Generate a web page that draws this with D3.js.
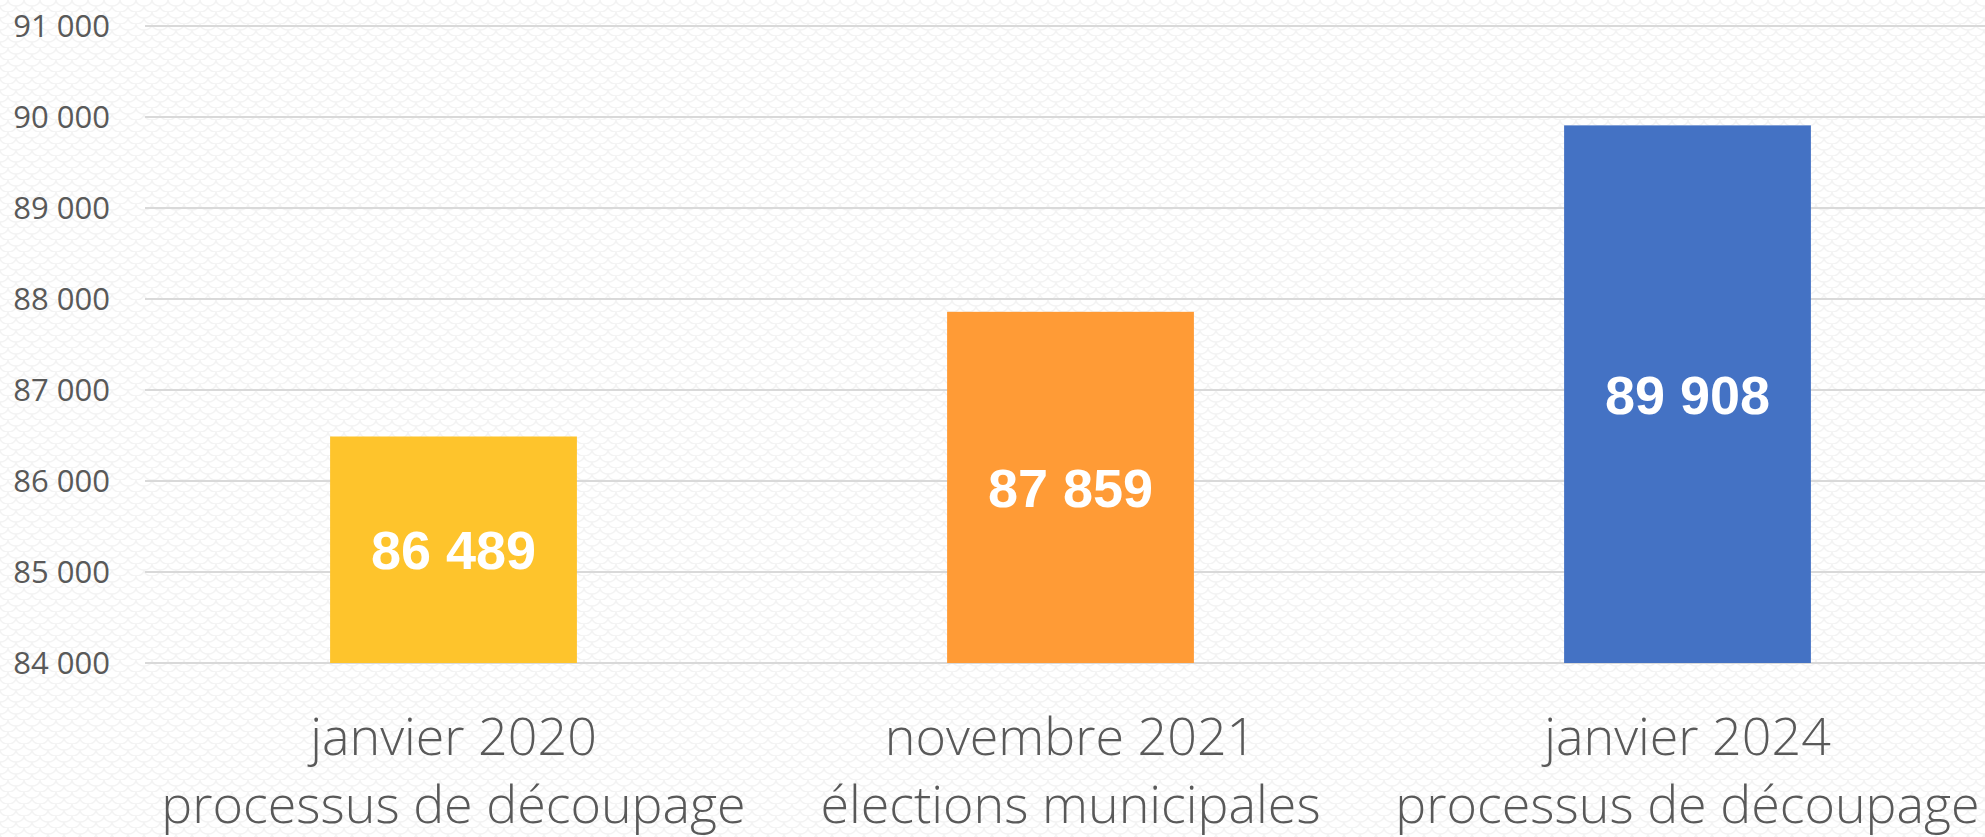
<!DOCTYPE html>
<html lang="fr">
<head>
    <meta charset="UTF-8">
    <title>Population</title>
    <script src="https://d3js.org/d3.v7.min.js"></script>
    <style>
        body { margin: 0; background: #fff; overflow: hidden; }
        .tick-label { font-family: "Open Sans", sans-serif; font-size: 31px; fill: #595959; }
        .cat-label { font-family: "Open Sans", sans-serif; font-weight: 300; font-size: 52px; fill: #595959; }
        .value-label { font-family: "Liberation Sans", Arial, sans-serif; font-weight: bold; font-size: 54px; fill: #fff; }
    </style>
</head>
<body>
<svg id="chart"></svg>
<script>
    // data
    const categories = [
        ["janvier 2020", "processus de découpage"],
        ["novembre 2021", "élections municipales"],
        ["janvier 2024", "processus de découpage"]
    ];
    const values = [86489, 87859, 89908];
    const barColors = ["#fec42c", "#ff9b36", "#4472c4"];
    const yTicks = [84000, 85000, 86000, 87000, 88000, 89000, 90000, 91000];

    const width = 1985, height = 837;
    const margin = {left: 145, right: -11, top: 26, bottom: 174};

    const svg = d3.select("#chart").attr("width", width).attr("height", height);

    // faint scale pattern in background
    const defs = svg.append("defs");
    const pat = defs.append("pattern")
        .attr("id", "bg")
        .attr("patternUnits", "userSpaceOnUse")
        .attr("width", 16).attr("height", 12);
    pat.append("rect").attr("width", 16).attr("height", 12).attr("fill", "#fff");
    pat.append("path")
        .attr("d", "M0,6 A8,6 0 0,0 16,6 M-8,12 A8,6 0 0,0 8,12 M8,12 A8,6 0 0,0 24,12 M-8,0 A8,6 0 0,0 8,0 M8,0 A8,6 0 0,0 24,0")
        .attr("fill", "none")
        .attr("stroke", "#f3f3f3")
        .attr("stroke-width", 1.5);
    svg.append("rect").attr("width", width).attr("height", height).attr("fill", "url(#bg)");

    const x = d3.scaleBand()
        .domain(d3.range(categories.length))
        .range([margin.left, width - margin.right])
        .paddingInner(0.6)
        .paddingOuter(0.3);

    const y = d3.scaleLinear()
        .domain([84000, 91000])
        .range([height - margin.bottom, margin.top]);

    const fmt = v => d3.format(",")(v).replace(/,/g, " ");

    // gridlines
    svg.append("g")
        .selectAll("line")
        .data(yTicks)
        .join("line")
        .attr("x1", margin.left)
        .attr("x2", width)
        .attr("y1", d => y(d))
        .attr("y2", d => y(d))
        .attr("stroke", "#d9d9d9")
        .attr("stroke-width", 2);

    // y tick labels
    svg.append("g")
        .selectAll("text")
        .data(yTicks)
        .join("text")
        .attr("class", "tick-label")
        .attr("x", 110)
        .attr("y", d => y(d))
        .attr("dy", "0.35em")
        .attr("text-anchor", "end")
        .text(fmt);

    // bars
    svg.append("g")
        .selectAll("rect")
        .data(values)
        .join("rect")
        .attr("x", (d, i) => x(i))
        .attr("width", x.bandwidth())
        .attr("y", d => y(d))
        .attr("height", d => y(84000) - y(d))
        .attr("fill", (d, i) => barColors[i]);

    // value labels, centred in the bars
    svg.append("g")
        .selectAll("text")
        .data(values)
        .join("text")
        .attr("class", "value-label")
        .attr("x", (d, i) => x(i) + x.bandwidth() / 2)
        .attr("y", d => (y(d) + y(84000)) / 2)
        .attr("dy", "0.36em")
        .attr("text-anchor", "middle")
        .text(fmt);

    // category labels (two lines)
    const cat = svg.append("g")
        .selectAll("text")
        .data(categories)
        .join("text")
        .attr("class", "cat-label")
        .attr("text-anchor", "middle")
        .attr("x", (d, i) => x(i) + x.bandwidth() / 2);
    cat.append("tspan")
        .attr("x", (d, i) => x(i) + x.bandwidth() / 2)
        .attr("y", 755)
        .text(d => d[0]);
    cat.append("tspan")
        .attr("x", (d, i) => x(i) + x.bandwidth() / 2)
        .attr("y", 823)
        .text(d => d[1]);
</script>
</body>
</html>
